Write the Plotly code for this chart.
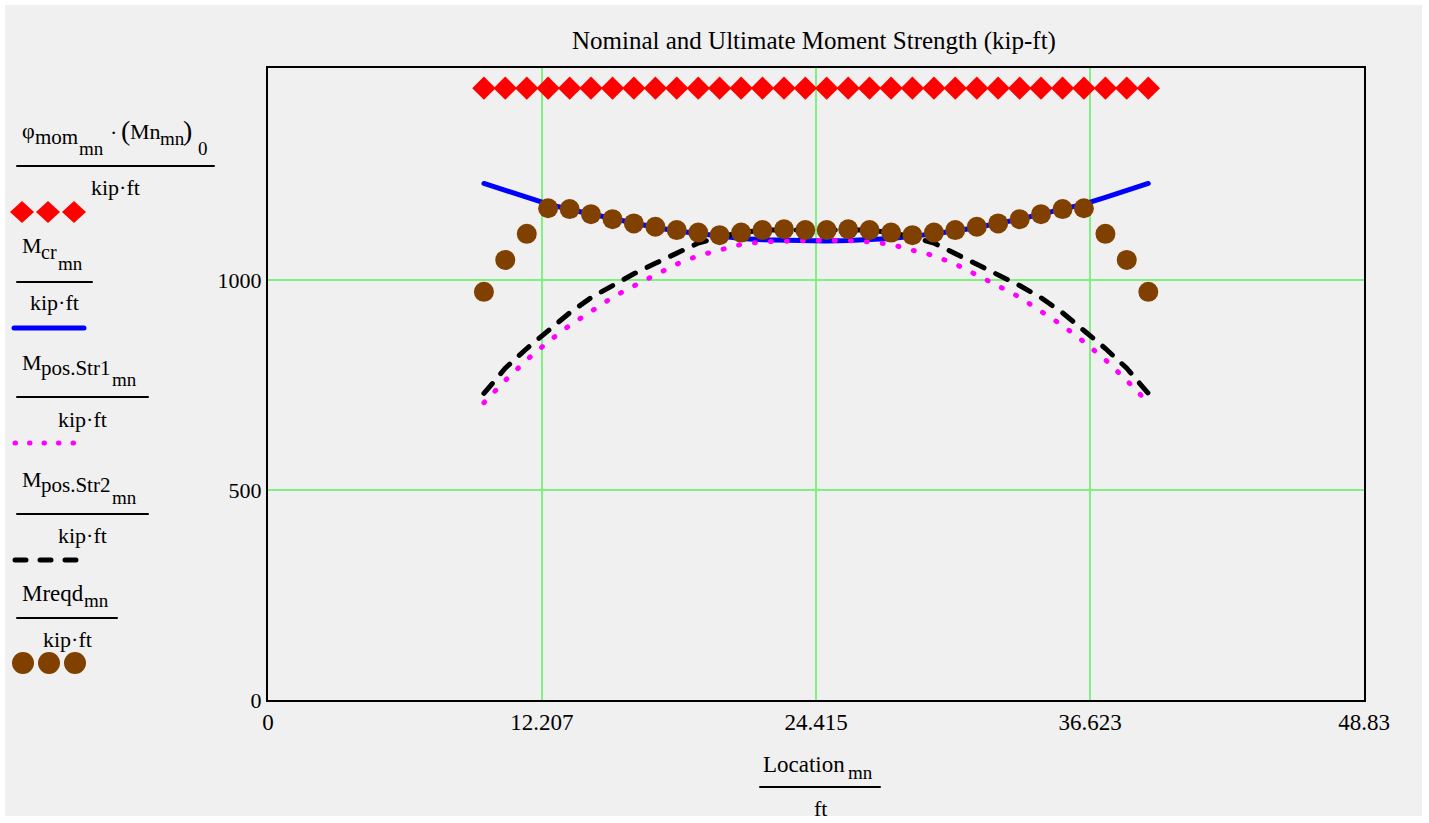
import plotly.graph_objects as go

# Location of each section (ft)
location = [9.62, 10.57, 11.53, 12.48, 13.44, 14.39, 15.35, 16.30, 17.26, 18.21,
            19.17, 20.12, 21.08, 22.03, 22.99, 23.94, 24.89, 25.85, 26.80, 27.76,
            28.71, 29.67, 30.62, 31.58, 32.53, 33.49, 34.44, 35.40, 36.35, 37.31,
            38.26, 39.22]

# moments (kip-ft)
phi_mn = [1457, 1457, 1457, 1457, 1457, 1457, 1457, 1457, 1457, 1457,
          1457, 1457, 1457, 1457, 1457, 1457, 1457, 1457, 1457, 1457,
          1457, 1457, 1457, 1457, 1457, 1457, 1457, 1457, 1457, 1457,
          1457, 1457]
m_cr = [1230, 1213, 1197, 1181, 1168, 1157, 1145, 1134, 1125, 1117,
        1110, 1104, 1099, 1096, 1094, 1093, 1093, 1094, 1096, 1099,
        1104, 1110, 1117, 1125, 1134, 1145, 1157, 1168, 1181, 1197,
        1213, 1230]
m_str1 = [708, 761, 810, 853, 892, 927, 959, 986, 1013, 1038,
          1058, 1071, 1085, 1091, 1094, 1094, 1094, 1094, 1091, 1085,
          1071, 1058, 1038, 1013, 986, 959, 927, 892, 853, 810,
          761, 708]
m_str2 = [730, 790, 837, 880, 922, 958, 987, 1015, 1040, 1063,
          1088, 1103, 1113, 1119, 1119, 1119, 1119, 1119, 1119, 1113,
          1103, 1088, 1063, 1040, 1015, 987, 958, 922, 880, 837,
          790, 730]
m_reqd = [972, 1048, 1110, 1171, 1169, 1157, 1145, 1135, 1127, 1119,
          1113, 1107, 1113, 1119, 1121, 1119, 1119, 1121, 1119, 1113,
          1107, 1113, 1119, 1127, 1135, 1145, 1157, 1169, 1171, 1110,
          1048, 972]

x_ticks = [0, 12.207, 24.415, 36.623, 48.83]
x_tick_text = ["0", "12.207", "24.415", "36.623", "48.83"]
y_ticks = [0, 500, 1000]

W, H = 1429, 823
FONT = "Liberation Serif"
GRID = "#80f080"
BG = "#f0f0f0"
BROWN = "#804000"


def px(x):
    return x / W


def py(y):
    return 1 - y / H


fig = go.Figure()
fig.add_trace(go.Scatter(x=location, y=phi_mn, mode="markers",
                         marker=dict(symbol="diamond", size=18, color="red")))
fig.add_trace(go.Scatter(x=location, y=m_cr, mode="lines",
                         line=dict(color="blue", width=5)))
fig.add_trace(go.Scatter(x=location, y=m_str1, mode="lines",
                         line=dict(color="magenta", width=5, dash="1px,15px")))
fig.add_trace(go.Scatter(x=location, y=m_str2, mode="lines",
                         line=dict(color="black", width=5, dash="13px,13px")))
fig.add_trace(go.Scatter(x=location, y=m_reqd, mode="markers",
                         marker=dict(symbol="circle", size=20, color=BROWN)))

shapes = [dict(type="rect", xref="paper", yref="paper", x0=px(5), x1=px(1422),
               y0=py(816), y1=py(5), fillcolor=BG, line=dict(width=0), layer="below")]
annotations = []


def text(s, x, y, size=22, xanchor="center"):
    annotations.append(dict(text=s, x=px(x), y=py(y), xref="paper", yref="paper",
                            xanchor=xanchor, yanchor="middle", showarrow=False,
                            font=dict(family=FONT, size=size, color="black")))


def rule(x0, x1, y):
    shapes.append(dict(type="line", xref="paper", yref="paper", x0=px(x0), x1=px(x1),
                       y0=py(y), y1=py(y), line=dict(color="black", width=2)))


def fraction(pieces, x0, x1, ly, den, dy):
    # pieces: (text, left x, center y, size)
    for s, x, y, size in pieces:
        text(s, x, y, size, xanchor="left")
    rule(x0, x1, ly)
    text(den, (x0 + x1) / 2, dy)


# legend
fraction([("φ", 20, 130, 22), ("mom", 33, 137, 21), ("mn", 77, 148, 19),
          ("·", 108, 132, 22), ("(", 119, 130, 28), ("Mn", 128, 131, 22),
          ("mn", 158, 138, 19), (")", 181, 130, 28), ("0", 196, 148, 19)],
         17, 214, 166, "kip·ft", 187)
for cx in [22, 48, 74]:
    shapes.append(dict(type="path", xref="paper", yref="paper", fillcolor="red",
                       line=dict(width=0),
                       path=f"M{px(cx-12)},{py(212)} L{px(cx)},{py(201)} L{px(cx+12)},{py(212)} L{px(cx)},{py(223)} Z"))

fraction([("M", 20, 245, 22), ("cr", 39, 252, 20), ("mn", 56, 263, 19)],
         17, 92, 282, "kip·ft", 302)
shapes.append(dict(type="line", xref="paper", yref="paper", x0=px(14), x1=px(84),
                   y0=py(328), y1=py(328), line=dict(color="blue", width=5)))

fraction([("M", 20, 362, 22), ("pos.Str1", 39, 368, 21), ("mn", 110, 380, 19)],
         17, 148, 397, "kip·ft", 419)
shapes.append(dict(type="line", xref="paper", yref="paper", x0=px(15), x1=px(75),
                   y0=py(443), y1=py(443),
                   line=dict(color="magenta", width=5, dash="0.5px,14px")))

fraction([("M", 20, 479, 22), ("pos.Str2", 39, 485, 21), ("mn", 110, 497, 19)],
         17, 148, 514, "kip·ft", 535)
shapes.append(dict(type="line", xref="paper", yref="paper", x0=px(15), x1=px(78),
                   y0=py(560), y1=py(560),
                   line=dict(color="black", width=5, dash="11px,14px")))

fraction([("Mreqd", 20, 593, 23), ("mn", 82, 600, 19)],
         17, 117, 618, "kip·ft", 639)
for cx in [23, 49, 75]:
    shapes.append(dict(type="circle", xref="paper", yref="paper", fillcolor=BROWN,
                       line=dict(width=0), x0=px(cx - 11), x1=px(cx + 11),
                       y0=py(652), y1=py(674)))

# axis title and chart title
fraction([("Location", 761, 764, 23), ("mn", 846, 772, 19)],
         760, 880, 787, "ft", 808)
text("Nominal and Ultimate Moment Strength (kip-ft)", 814, 41, size=25)

axis_style = dict(showgrid=True, gridcolor=GRID, gridwidth=1.5, showline=True,
                  linecolor="black", linewidth=2, mirror=True, zeroline=False,
                  ticks="", automargin=False)

fig.update_layout(
    width=W, height=H, margin=dict(l=0, r=0, t=0, b=0),
    paper_bgcolor="white", plot_bgcolor=BG, showlegend=False,
    font=dict(family=FONT, size=22, color="black"),
    xaxis=dict(domain=[px(268), px(1364)], range=[0, 48.83], tickvals=x_ticks,
               ticktext=x_tick_text, tickfont=dict(family=FONT, size=23, color="black"),
               **axis_style),
    yaxis=dict(domain=[py(700), py(68)], range=[0, 1505], tickvals=y_ticks,
               tickfont=dict(family=FONT, size=22, color="black"),
               **axis_style),
    shapes=shapes, annotations=annotations,
)

post = ("document.body.style.margin='0';"
        "document.querySelectorAll('path.js-line, .shapelayer path').forEach("
        "function(p){p.style.strokeLinecap='round';});")
fig.write_html("out.html", post_script=post, config={"displayModeBar": False})
